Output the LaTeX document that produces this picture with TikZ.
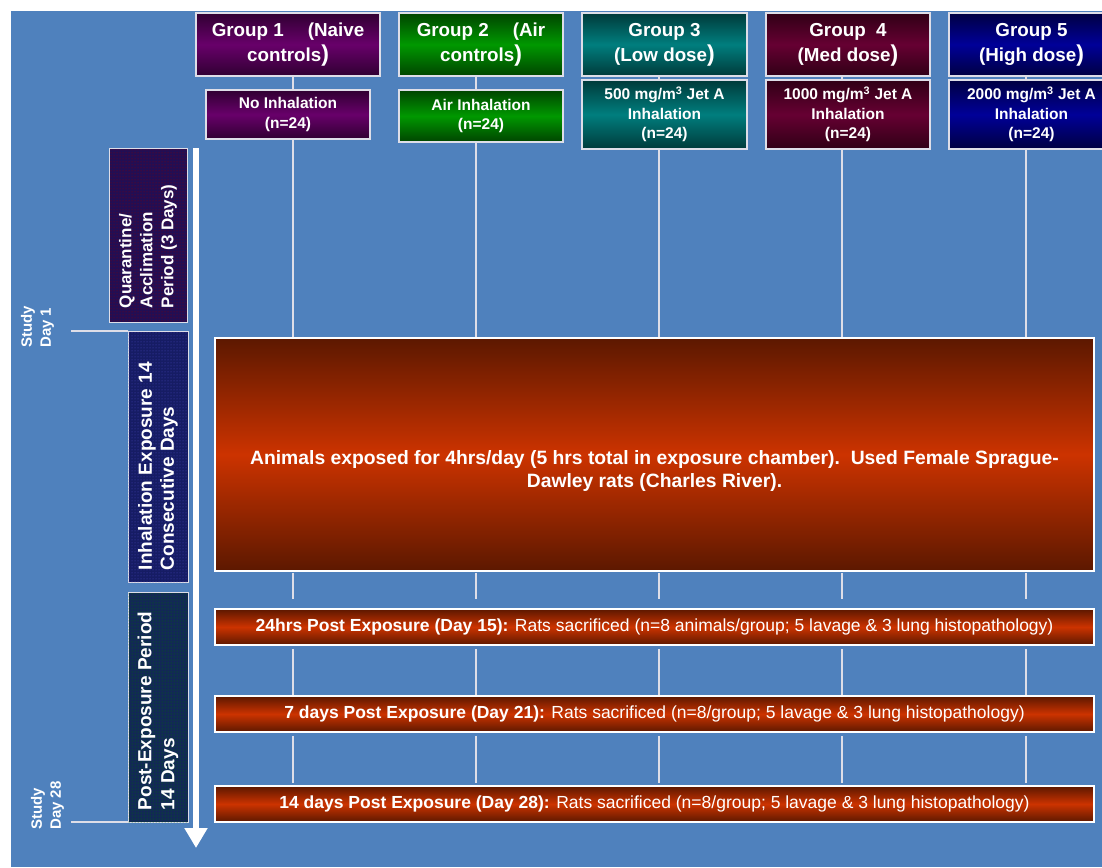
\documentclass[tikz,border=0pt]{standalone}
\usepackage{fontspec}
\setmainfont{Liberation Sans}
\usepackage{tikz}
\usetikzlibrary{arrows.meta}
\usetikzlibrary{patterns}

\definecolor{bgblue}{RGB}{79,129,189}
\definecolor{edge}{RGB}{222,222,232}
\definecolor{purpD}{RGB}{48,0,50}
\definecolor{purpL}{RGB}{104,0,106}
\definecolor{greenD}{RGB}{0,68,0}
\definecolor{greenL}{RGB}{0,152,0}
\definecolor{tealD}{RGB}{0,58,58}
\definecolor{tealL}{RGB}{0,126,126}
\definecolor{marD}{RGB}{48,0,22}
\definecolor{marL}{RGB}{102,0,50}
\definecolor{navD}{RGB}{0,0,66}
\definecolor{navL}{RGB}{0,0,152}
\definecolor{orD}{RGB}{92,24,0}
\definecolor{orL}{RGB}{204,51,0}
\definecolor{quarC}{RGB}{34,14,84}
\definecolor{inhC}{RGB}{22,28,100}
\definecolor{postC}{RGB}{18,40,86}

\tikzset{
   grp/.style={draw=edge, line width=1.2pt, text=white, align=center, inner sep=0pt,
      minimum height=63pt, font=\bfseries\fontsize{18.8}{25}\selectfont},
   dose/.style={draw=edge, line width=1.2pt, text=white, align=center, inner sep=0pt,
      font=\bfseries\fontsize{15.5}{19.5}\selectfont},
   purplebox/.style={top color=purpD, bottom color=purpD, middle color=purpL},
   greenbox/.style={top color=greenD, bottom color=greenD, middle color=greenL},
   tealbox/.style={top color=tealD, bottom color=tealD, middle color=tealL},
   maroonbox/.style={top color=marD, bottom color=marD, middle color=marL},
   navybox/.style={top color=navD, bottom color=navD, middle color=navL},
   orangebox/.style={top color=orD, bottom color=orD, middle color=orL},
   bar/.style={orangebox, draw=white, line width=1.6pt, minimum width=879pt, minimum height=36pt,
      inner sep=0pt, text=white, font=\fontsize{17.5}{20}\selectfont},
   panel/.style={draw=edge, line width=0.8pt, inner sep=0pt},
   paneltxt/.style={rotate=90, anchor=west, text=white, align=left, inner sep=0pt},
   daytxt/.style={rotate=90, anchor=west, text=white, align=left, inner sep=0pt,
      font=\bfseries\fontsize{15}{19}\selectfont},
   conn/.style={draw=edge, line width=1.6pt},
   dayline/.style={draw=edge, line width=1.2pt}
}

\newcommand{\bigparen}{{\fontsize{23}{25}\selectfont )}}

\begin{document}
\begin{tikzpicture}[x=1pt, y=-1pt]
   \useasboundingbox (0,0) rectangle (1102,867);
   \fill[white] (0,0) rectangle (1102,867);
   \fill[bgblue] (11,11) rectangle (1102,867);

   \node[grp, purplebox, minimum width=184pt] (g1) at (288,44.5) {Group 1\hspace{24pt}(Naive\\controls\bigparen};
   \node[grp, greenbox, minimum width=164pt] (g2) at (481,44.5) {Group 2\hspace{24pt}(Air\\controls\bigparen};
   \node[grp, tealbox, minimum width=165pt] (g3) at (664.5,44.5) {Group 3\\(Low dose\bigparen};
   \node[grp, maroonbox, minimum width=164pt] (g4) at (848,44.5) {Group\ \ 4\\(Med dose\bigparen};
   \node[grp, navybox, minimum width=165pt] (g5) at (1031.5,44.5) {Group 5\\(High dose\bigparen};

   \node[dose, purplebox, minimum width=164pt, minimum height=49pt] (d1) at (288,114.5) {No Inhalation\\(n=24)};
   \node[dose, greenbox, minimum width=164pt, minimum height=52pt] (d2) at (481,116) {Air Inhalation\\(n=24)};
   \node[dose, tealbox, minimum width=165pt, minimum height=69pt] (d3) at (664.5,114.5) {500 mg/m\textsuperscript{3} Jet A\\Inhalation\\(n=24)};
   \node[dose, maroonbox, minimum width=164pt, minimum height=69pt] (d4) at (848,114.5) {1000 mg/m\textsuperscript{3} Jet A\\Inhalation\\(n=24)};
   \node[dose, navybox, minimum width=165pt, minimum height=69pt] (d5) at (1031.5,114.5) {2000 mg/m\textsuperscript{3} Jet A\\Inhalation\\(n=24)};

   \node[orangebox, draw=white, line width=1.6pt, minimum width=879pt, minimum height=233pt] (expo) at (654.5,454.5) {};
   \node[text=white, align=center, inner sep=0pt, font=\bfseries\fontsize{19.3}{23}\selectfont] (expotxt) at (654.5,471.5)
      {Animals exposed for 4hrs/day (5 hrs total in exposure chamber).\ \ Used Female Sprague-\\Dawley rats (Charles River).};

   \node[bar] (p1) at (654.5,627) {\textbf{24hrs Post Exposure (Day 15):} Rats sacrificed (n=8 animals/group; 5 lavage \& 3 lung histopathology)};
   \node[bar] (p2) at (654.5,714) {\textbf{7 days Post Exposure (Day 21):} Rats sacrificed (n=8/group; 5 lavage \& 3 lung histopathology)};
   \node[bar] (p3) at (654.5,804) {\textbf{14 days Post Exposure (Day 28):} Rats sacrificed (n=8/group; 5 lavage \& 3 lung histopathology)};

   \foreach \i/\dx in {1/5,2/-5,3/-5.5,4/-6,5/-5.5} {
      \coordinate (l\i) at ([xshift=\dx pt]d\i.center);
      \draw[conn] (l\i |- g\i.south) -- (l\i |- d\i.north);
      \draw[conn] (l\i |- d\i.south) -- (l\i |- expo.north);
      \draw[conn, shorten <=1pt, shorten >=9pt] (l\i |- expo.south) -- (l\i |- p1.north);
      \draw[conn, shorten <=3pt] (l\i |- p1.south) -- (l\i |- p2.north);
      \draw[conn, shorten <=3pt, shorten >=2pt] (l\i |- p2.south) -- (l\i |- p3.north);
   }

   \node[panel, fill=quarC, postaction={pattern=dots, pattern color=red!55!black},
      minimum width=78pt, minimum height=174pt] (quar) at (148,235) {};
   \node[panel, fill=inhC, postaction={pattern=dots, pattern color=blue!45!gray},
      minimum width=60pt, minimum height=251pt] (inh) at (158,456.5) {};
   \node[panel, fill=postC, postaction={pattern=dots, pattern color=green!45!black},
      minimum width=60pt, minimum height=230pt] (post) at (158,707) {};

   \node[paneltxt, font=\bfseries\fontsize{17}{21}\selectfont] (quartxt) at ([yshift=14pt]quar.south)
      {Quarantine/\\Acclimation\\Period (3 Days)};
   \node[paneltxt, font=\bfseries\fontsize{19}{22}\selectfont] (inhtxt) at ([yshift=12pt]inh.south)
      {Inhalation Exposure 14\\Consecutive Days};
   \node[paneltxt, font=\bfseries\fontsize{19}{23}\selectfont] (posttxt) at ([yshift=12pt]post.south)
      {Post-Exposure Period\\14 Days};

   \coordinate (tstart) at (196,148);
   \coordinate (tend) at (196,848);
   \draw[white, line width=6pt, -{Triangle[width=22pt, length=20pt]}] (tstart) -- (tend);

   \coordinate (day1) at (71,331);
   \coordinate (day28) at (71,822);
   \draw[dayline] (day1) -- (day1 -| inh.west);
   \draw[dayline] (day28) -- (day28 -| post.west);
   \node[daytxt] (day1txt) at (37.5,348) {Study\\Day 1};
   \node[daytxt] (day28txt) at (47.5,830) {Study\\Day 28};
\end{tikzpicture}
\end{document}
